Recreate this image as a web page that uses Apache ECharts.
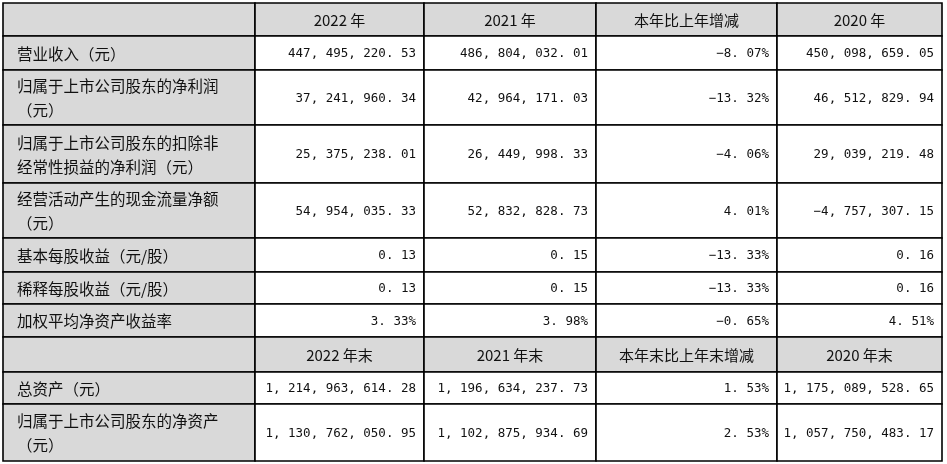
<!DOCTYPE html>
<html><head><meta charset="utf-8">
<script src="https://cdn.jsdelivr.net/npm/echarts@6/dist/echarts.min.js"></script>
<style>html,body{margin:0;padding:0;background:#fff}#c{width:947px;height:464px}</style>
</head><body><div id="c"></div>
<script>
const headers1 = ['', '2022 年', '2021 年', '本年比上年增减', '2020 年'];
const rowLabels1 = ['营业收入（元）', '归属于上市公司股东的净利润\n（元）', '归属于上市公司股东的扣除非\n经常性损益的净利润（元）', '经营活动产生的现金流量净额\n（元）', '基本每股收益（元/股）', '稀释每股收益（元/股）', '加权平均净资产收益率'];
const y2022 = ['447,495,220.53', '37,241,960.34', '25,375,238.01', '54,954,035.33', '0.13', '0.13', '3.33%'];
const y2021 = ['486,804,032.01', '42,964,171.03', '26,449,998.33', '52,832,828.73', '0.15', '0.15', '3.98%'];
const change1 = ['-8.07%', '-13.32%', '-4.06%', '4.01%', '-13.33%', '-13.33%', '-0.65%'];
const y2020 = ['450,098,659.05', '46,512,829.94', '29,039,219.48', '-4,757,307.15', '0.16', '0.16', '4.51%'];
const headers2 = ['', '2022 年末', '2021 年末', '本年末比上年末增减', '2020 年末'];
const rowLabels2 = ['总资产（元）', '归属于上市公司股东的净资产\n（元）'];
const end2022 = ['1,214,963,614.28', '1,130,762,050.95'];
const end2021 = ['1,196,634,237.73', '1,102,875,934.69'];
const change2 = ['1.53%', '2.53%'];
const end2020 = ['1,175,089,528.65', '1,057,750,483.17'];

const colEdges = [3, 255, 424, 596, 777, 942];
const rowEdges = [3, 36, 70, 125, 183, 238, 272, 304, 337, 372, 404, 461];

const cells = [];
function addBlock(startRow, headers, labels, cols) {
  headers.forEach((h, c) => cells.push([c, startRow, h, 0]));
  labels.forEach((l, r) => {
    cells.push([0, startRow + 1 + r, l, 1]);
    cols.forEach((arr, c) => cells.push([c + 1, startRow + 1 + r, arr[r], 2]));
  });
}
addBlock(0, headers1, rowLabels1, [y2022, y2021, change1, y2020]);
addBlock(8, headers2, rowLabels2, [end2022, end2021, change2, end2020]);

function fmt(s) { return s.replace(/,/g, ', ').replace(/\./g, '. ').replace(/-/g, '−'); }

const chart = echarts.init(document.getElementById('c'));
chart.setOption({
  animation: false,
  grid: {left: 0, right: 0, top: 0, bottom: 0},
  xAxis: {type: 'value', min: 0, max: 947, show: false},
  yAxis: {type: 'value', min: 0, max: 464, inverse: true, show: false},
  series: [{
    type: 'custom',
    coordinateSystem: 'cartesian2d',
    data: cells,
    renderItem: function (params, api) {
      const c = api.value(0), r = api.value(1), kind = api.value(3);
      const text = cells[params.dataIndex][2];
      const p0 = api.coord([colEdges[c], rowEdges[r]]);
      const p1 = api.coord([colEdges[c + 1], rowEdges[r + 1]]);
      const gray = kind === 0 || c === 0;
      const children = [{
        type: 'rect',
        shape: {x: p0[0], y: p0[1], width: p1[0] - p0[0], height: p1[1] - p0[1]},
        style: {fill: gray ? '#d9d9d9' : '#fff', stroke: '#000', lineWidth: 1.6}
      }];
      const cy = (p0[1] + p1[1]) / 2;
      if (kind === 0) {
        children.push({type: 'text', style: {text: text, x: (p0[0] + p1[0]) / 2, y: cy + 1, align: 'center', verticalAlign: 'middle', font: '15px "Noto Sans CJK SC", "Liberation Serif"', fill: '#111'}});
      } else if (kind === 1) {
        children.push({type: 'text', style: {text: text, x: p0[0] + 14, y: cy + 1, align: 'left', verticalAlign: 'middle', font: '15.5px "Noto Sans CJK SC"', lineHeight: 24, fill: '#111'}});
      } else {
        children.push({type: 'text', style: {text: fmt(text), x: p1[0] - 8, y: cy + 1, align: 'right', verticalAlign: 'middle', font: '12.5px "DejaVu Sans Mono"', fill: '#111'}});
      }
      return {type: 'group', children: children};
    }
  }]
});
</script></body></html>
